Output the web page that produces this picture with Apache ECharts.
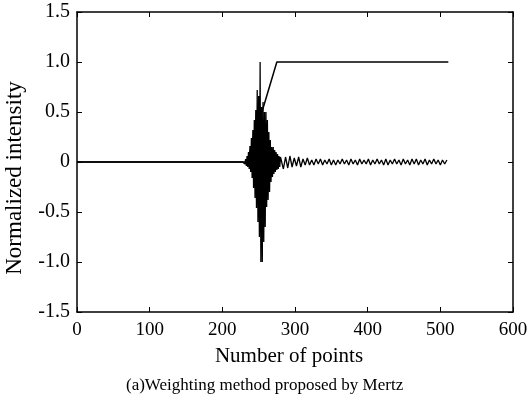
<!DOCTYPE html>
<html><head><meta charset="utf-8">
<script src="https://cdn.jsdelivr.net/npm/echarts@6/dist/echarts.min.js"></script>
<style>html,body{margin:0;padding:0;background:#fff}#c{width:531px;height:403px}</style>
</head><body><div id="c"></div>
<script>
// Interferogram: flat zero, centre burst (1 point per step), then small tail (every 3 points)
var flatX = [0, 228];
var flatVals = [0, 0];
var burstStart = 229;
var burstVals = [0,0.01,-0.02,0.03,-0.04,0.06,-0.05,0.1,-0.07,0.16,-0.1,0.24,-0.16,0.32,-0.26,0.42,-0.36,0.52,-0.46,0.72,-0.6,0.66,-0.75,1.0,-1.0,0.55,-1.0,0.6,-0.8,0.5,-0.65,0.5,-0.45,0.42,-0.38,0.3,-0.3,0.22,-0.2,0.15,-0.15,0.15,-0.12,0.12,-0.1,0.1,-0.08,0.08,-0.07,0.06,-0.05,0.05];
var tailStart = 281, tailStep = 3;
var tailVals = [0.06,-0.07,0.05,-0.06,0.06,-0.05,0.04,-0.04,0.05,-0.05,0.03,-0.03,0.04,-0.03,0.02,-0.03,0.03,-0.02,0.03,-0.03,0.02,-0.02,0.03,-0.03,0.02,-0.03,0.02,-0.02,0.03,-0.02,0.02,-0.03,0.03,-0.02,0.02,-0.03,0.03,-0.02,0.02,-0.02,0.03,-0.03,0.02,-0.02,0.03,-0.02,0.02,-0.03,0.03,-0.03,0.02,-0.02,0.03,-0.02,0.02,-0.03,0.03,-0.02,0.02,-0.03,0.03,-0.02,0.03,-0.03,0.02,-0.02,0.03,-0.03,0.02,-0.02,0.03,-0.02,0.02,-0.03,0.02,-0.02,0.02,0];
// Mertz weighting function (ramp)
var rampX = [0, 234, 275, 511];
var rampY = [0, 0, 1, 1];
var xTicks = [0,100,200,300,400,500,600];
var yTicks = [-1.5,-1.0,-0.5,0,0.5,1.0,1.5];

var sig = [];
flatX.forEach(function(x,i){ sig.push([x, flatVals[i]]); });
burstVals.forEach(function(v,i){ sig.push([burstStart+i, v]); });
tailVals.forEach(function(v,i){ var x = tailStart+i*tailStep; if (x<=511) sig.push([x, v]); });
var ramp = rampX.map(function(x,i){ return [x, rampY[i]]; });

var font = 'Liberation Serif';
function yfmt(v){ return Math.abs(v)<1e-9 ? '0' : v.toFixed(1); }
var line = {show:true, onZero:false, lineStyle:{color:'#000', width:1.5}};
var tick = {show:true, inside:true, length:5, lineStyle:{color:'#000', width:1}};

var chart = echarts.init(document.getElementById('c'), null, {renderer:'canvas'});
chart.setOption({
  animation:false,
  backgroundColor:'#fff',
  title:{text:'(a)Weighting method proposed by Mertz', left:121, top:372,
    textStyle:{color:'#000', fontFamily:font, fontSize:17, fontWeight:'normal'}},
  grid:{left:77, right:18, top:12, bottom:91, containLabel:false, outerBoundsMode:'none'},
  xAxis:[{type:'value', min:xTicks[0], max:xTicks[xTicks.length-1], interval:100, position:'bottom',
    name:'Number of points', nameLocation:'middle', nameGap:34,
    nameTextStyle:{color:'#000', fontFamily:font, fontSize:21, padding:[0,12,0,0]},
    axisLine:line, axisTick:tick, axisLabel:{margin:9, color:'#000', fontFamily:font, fontSize:19}, splitLine:{show:false}},
   {type:'value', min:0, max:600, interval:100, position:'top', axisLine:line, axisTick:tick, axisLabel:{show:false}, splitLine:{show:false}}],
  yAxis:[{type:'value', min:yTicks[0], max:yTicks[yTicks.length-1], interval:0.5, position:'left',
    name:'Normalized intensity', nameLocation:'middle', nameGap:51,
    nameTextStyle:{color:'#000', fontFamily:font, fontSize:23, padding:[0,32,0,0]},
    axisLine:line, axisTick:tick, axisLabel:{margin:7, formatter:yfmt, color:'#000', fontFamily:font, fontSize:20}, splitLine:{show:false}},
   {type:'value', min:-1.5, max:1.5, interval:0.5, position:'right', axisLine:line, axisTick:tick, axisLabel:{show:false}, splitLine:{show:false}}],
  series:[
    {type:'line', data:sig, showSymbol:false, symbol:'none', lineStyle:{color:'#000', width:1.3}, z:3},
    {type:'line', data:ramp, showSymbol:false, symbol:'none', lineStyle:{color:'#000', width:1.5}, z:4}
  ]
});
</script></body></html>
